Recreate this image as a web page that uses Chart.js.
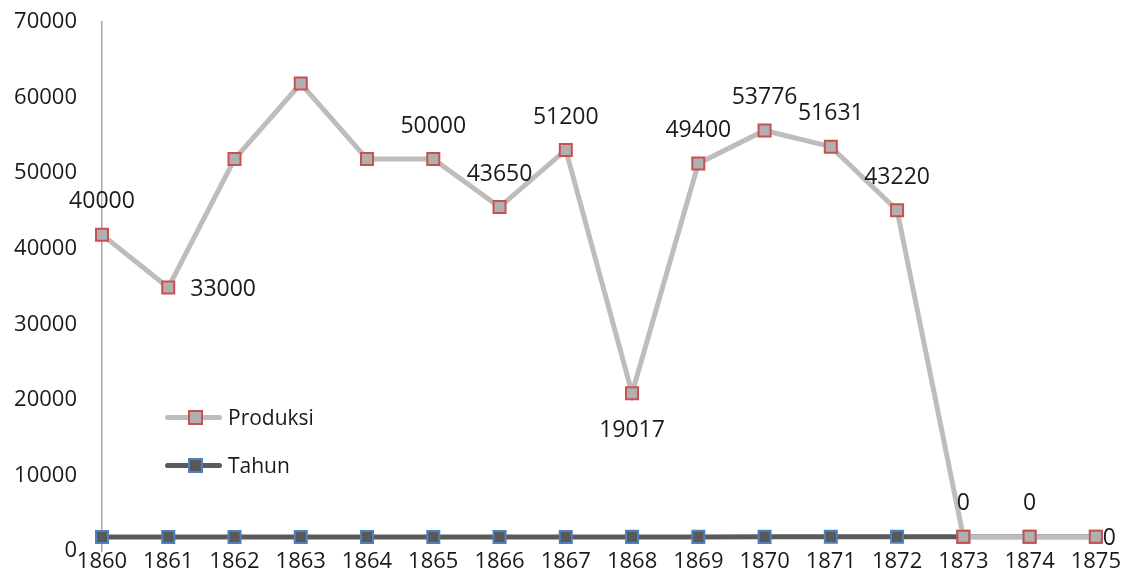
<!DOCTYPE html>
<html>
<head>
<meta charset="utf-8">
<script src="https://cdn.jsdelivr.net/npm/chart.js@4/dist/chart.umd.min.js"></script>
<style>
  html, body { margin: 0; padding: 0; background: #fff; }
  #wrap { position: relative; width: 1121px; height: 574px; font-family: "Open Sans", sans-serif; }
  .legend-row { position: absolute; left: 165px; height: 20px; display: flex; align-items: center; }
  .legend-line { position: relative; width: 57px; height: 5px; border-radius: 3px; }
  .legend-mark { position: absolute; left: 23px; top: -5px; width: 11px; height: 11px; border: 2px solid; box-sizing: content-box; }
  .legend-text { margin-left: 6px; font-size: 21px; color: #1a1a1a; }
</style>
</head>
<body>
<div id="wrap">
  <canvas id="chart" width="1121" height="574"></canvas>
  <div id="legend"></div>
</div>
<script>
// ---- DATA ----
const years = ['1860','1861','1862','1863','1864','1865','1866','1867','1868','1869','1870','1871','1872','1873','1874','1875'];
const produksi = [40000, 33000, 50000, 60000, 50000, 50000, 43650, 51200, 19017, 49400, 53776, 51631, 43220, 0, 0, 0];
const tahun = [1860, 1861, 1862, 1863, 1864, 1865, 1866, 1867, 1868, 1869, 1870, 1871, 1872, 1873, 1874, 1875];
const yTicks = [0, 10000, 20000, 30000, 40000, 50000, 60000, 70000];
// where each Produksi label sits (null = no label shown)
const labelPos = ['above','right',null,null,null,'above','above','above','below','above','above','above','above','above','above','right'];

// stacked line like the original sheet: Produksi sits on top of Tahun
const produksiStacked = produksi.map((v, i) => v + tahun[i]);

const FONT = '"Open Sans", sans-serif';

const valueLabels = {
    id: 'valueLabels',
    afterDatasetsDraw(chart) {
        const ctx = chart.ctx;
        const meta = chart.getDatasetMeta(0);
        ctx.save();
        ctx.font = '23px ' + FONT;
        ctx.fillStyle = '#1a1a1a';
        ctx.textBaseline = 'middle';
        meta.data.forEach((pt, i) => {
            const pos = labelPos[i];
            if (!pos) return;
            const txt = String(produksi[i]);
            if (pos === 'above') {
                ctx.textAlign = 'center';
                ctx.fillText(txt, pt.x, pt.y - 33);
            } else if (pos === 'below') {
                ctx.textAlign = 'center';
                ctx.fillText(txt, pt.x, pt.y + 37);
            } else {
                ctx.textAlign = 'left';
                const w = ctx.measureText(txt).width;
                const x = Math.min(pt.x + 22, chart.width - w - 5);
                ctx.fillText(txt, x, pt.y + 2);
            }
        });
        ctx.restore();
    }
};

const ctx = document.getElementById('chart').getContext('2d');
new Chart(ctx, {
    type: 'line',
    data: {
        labels: years,
        datasets: [
            {
                label: 'Produksi',
                data: produksiStacked,
                borderColor: '#bdbdbd',
                borderWidth: 5,
                pointStyle: 'rect',
                pointRadius: 8.5,
                pointBackgroundColor: '#b0b0b0',
                pointBorderColor: '#c9504f',
                pointBorderWidth: 2,
                tension: 0,
            },
            {
                label: 'Tahun',
                data: tahun,
                borderColor: '#5a5a5a',
                borderWidth: 5,
                pointStyle: 'rect',
                pointRadius: 8.5,
                pointBackgroundColor: '#595959',
                pointBorderColor: '#4f81bd',
                pointBorderWidth: 2,
                tension: 0,
            }
        ]
    },
    options: {
        responsive: false,
        animation: false,
        layout: { padding: { top: 22, right: 25, bottom: 1, left: 0 } },
        plugins: {
            legend: { display: false },
            tooltip: { enabled: false }
        },
        scales: {
            x: {
                offset: false,
                grid: { display: false, drawTicks: false },
                border: { display: false },
                ticks: {
                    color: '#1a1a1a',
                    font: { family: FONT, size: 22, lineHeight: 1 },
                    padding: 0,
                    maxRotation: 0,
                    autoSkip: false
                }
            },
            y: {
                min: 0,
                max: 70000,
                afterBuildTicks: (scale) => { scale.ticks = yTicks.map(v => ({ value: v })); },
                afterFit: (scale) => {
                    scale.width = 102;
                    scale.paddingTop = 0;
                    scale.paddingBottom = 0;
                },
                grid: { display: false, drawTicks: false },
                border: { display: true, color: '#a8a8a8', width: 1.5 },
                ticks: {
                    color: '#1a1a1a',
                    font: { family: FONT, size: 22 },
                    padding: 25,
                    callback: (v) => String(v)
                }
            }
        }
    },
    plugins: [valueLabels]
});

// ---- LEGEND (sits inside the plot, lower left) ----
const legendItems = [
    { name: 'Produksi', line: '#bdbdbd', fill: '#b0b0b0', edge: '#c9504f', top: 407 },
    { name: 'Tahun', line: '#5a5a5a', fill: '#595959', edge: '#4f81bd', top: 455 }
];
const legend = document.getElementById('legend');
legendItems.forEach(item => {
    const row = document.createElement('div');
    row.className = 'legend-row';
    row.style.top = item.top + 'px';

    const line = document.createElement('div');
    line.className = 'legend-line';
    line.style.background = item.line;

    const mark = document.createElement('div');
    mark.className = 'legend-mark';
    mark.style.background = item.fill;
    mark.style.borderColor = item.edge;
    line.appendChild(mark);

    const text = document.createElement('span');
    text.className = 'legend-text';
    text.textContent = item.name;

    row.appendChild(line);
    row.appendChild(text);
    legend.appendChild(row);
});
</script>
</body>
</html>
